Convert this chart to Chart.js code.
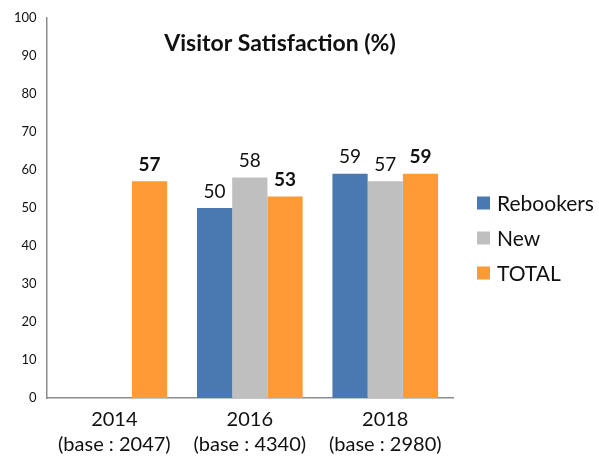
<!DOCTYPE html>
<html>
<head>
<meta charset="utf-8">
<script src="https://cdn.jsdelivr.net/npm/chart.js@4"></script>
<style>
  html, body { margin: 0; padding: 0; background: #fff; }
  #wrap { width: 599px; height: 468px; }
</style>
</head>
<body>
<div id="wrap"><canvas id="myChart" width="599" height="468"></canvas></div>
<script>
// 데이터
var years = ["2014", "2016", "2018"];
var bases = ["(base : 2047)", "(base : 4340)", "(base : 2980)"];
var rebookers = [null, 50, 59];
var newVisitors = [null, 58, 57];
var total = [57, 53, 59];
var seriesNames = ["Rebookers", "New", "TOTAL"];
var seriesColors = ["#4A78B1", "#BFBFBF", "#FF9A35"];
var yTicks = [0, 10, 20, 30, 40, 50, 60, 70, 80, 90, 100];
var chartTitle = "Visitor Satisfaction (%)";

var labels = years.map(function(y, i) { return [y, bases[i]]; });

// 막대 위 숫자, 제목, 범례
var labelPlugin = {
    id: "barLabels",
    afterDatasetsDraw: function(chart) {
        var ctx = chart.ctx;
        ctx.save();
        chart.data.datasets.forEach(function(ds, di) {
            var meta = chart.getDatasetMeta(di);
            meta.data.forEach(function(bar, i) {
                if (ds.data[i] == null) return;
                ctx.font = (di === 2 ? "bold " : "") + "19px Lato";
                ctx.fillStyle = "#111";
                ctx.textAlign = "center";
                ctx.textBaseline = "bottom";
                ctx.fillText(ds.data[i], bar.x, bar.y - 7);
            });
        });
        // 제목
        ctx.font = "bold 23px Lato";
        ctx.fillStyle = "#111";
        ctx.textAlign = "center";
        ctx.textBaseline = "middle";
        ctx.fillText(chartTitle, 280, 44);
        // 범례
        var lx = chart.chartArea.right + 24;
        var ly = 203;
        ctx.font = "21px Lato";
        ctx.textAlign = "left";
        for (var i = 0; i < seriesNames.length; i++) {
            ctx.fillStyle = seriesColors[i];
            ctx.fillRect(lx, ly + i * 35 - 6.5, 13, 13);
            ctx.fillStyle = "#111";
            ctx.fillText(seriesNames[i], lx + 20, ly + i * 35 + 1);
        }
        ctx.restore();
    }
};

var ctx = document.getElementById("myChart").getContext("2d");
var myChart = new Chart(ctx, {
    type: "bar",
    data: {
        labels: labels,
        datasets: [
            { label: seriesNames[0], data: rebookers, backgroundColor: seriesColors[0] },
            { label: seriesNames[1], data: newVisitors, backgroundColor: seriesColors[1] },
            { label: seriesNames[2], data: total, backgroundColor: seriesColors[2] }
        ]
    },
    options: {
        responsive: false,
        animation: false,
        categoryPercentage: 0.78,
        barPercentage: 1.0,
        layout: { padding: { top: 2, left: 4, right: 146, bottom: 2 } },
        plugins: {
            legend: { display: false },
            title: { display: false },
            tooltip: { enabled: false }
        },
        scales: {
            x: {
                grid: { display: false, drawTicks: false },
                border: { display: true, color: "#8c8c8c", width: 1.5 },
                ticks: {
                    color: "#111",
                    padding: 9,
                    font: { family: "Lato", size: 20, lineHeight: 1.25 }
                }
            },
            y: {
                min: 0,
                max: 100,
                afterBuildTicks: function(axis) {
                    axis.ticks = yTicks.map(function(v) { return { value: v }; });
                },
                grid: { display: false, drawTicks: false },
                border: { display: true, color: "#8c8c8c", width: 1.5 },
                ticks: {
                    color: "#111",
                    padding: 10,
                    font: { family: "Lato", size: 13 }
                }
            }
        }
    },
    plugins: [labelPlugin]
});
</script>
</body>
</html>
